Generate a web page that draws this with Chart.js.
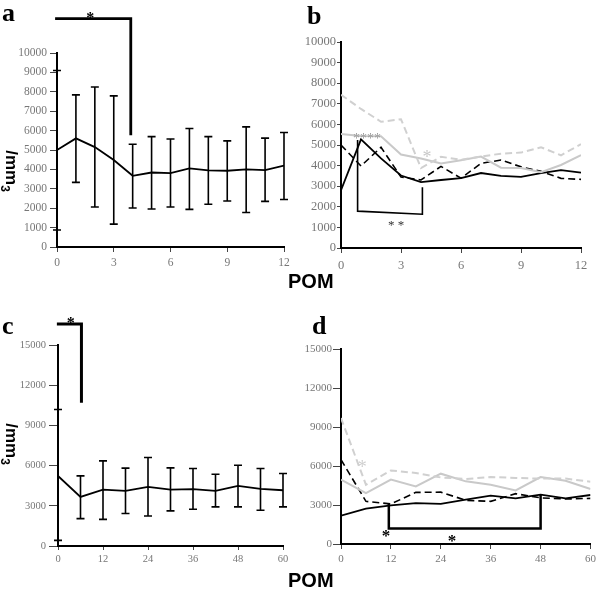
<!DOCTYPE html>
<html>
<head>
<meta charset="utf-8">
<script src="https://cdn.jsdelivr.net/npm/chart.js@4.4.0/dist/chart.umd.min.js"></script>
<style>
body { margin: 0; background: #fff; }
#wrap { position: relative; width: 600px; height: 592px; overflow: hidden; }
canvas { position: absolute; }
.letter { position: absolute; font: bold 26px 'Liberation Serif'; line-height: 26px; color: #000; }
.pom { position: absolute; font: bold 20px 'Liberation Sans'; line-height: 20px; color: #000; }
.unit { position: absolute; font: bold 17px 'Liberation Sans'; line-height: 17px; white-space: nowrap;
        transform: translate(-50%, -50%) rotate(90deg); }
.unit span { font-size: 12px; position: relative; top: 5px; }
</style>
</head>
<body>
<div id="wrap">
    <canvas id="chartA" width="300" height="275" style="left:0;top:0"></canvas>
    <canvas id="chartB" width="300" height="275" style="left:300px;top:0"></canvas>
    <canvas id="chartC" width="300" height="270" style="left:0;top:300px"></canvas>
    <canvas id="chartD" width="300" height="270" style="left:300px;top:300px"></canvas>

    <div class="letter" style="left:2px;top:0">a</div>
    <div class="letter" style="left:307px;top:3px">b</div>
    <div class="letter" style="left:2px;top:313px">c</div>
    <div class="letter" style="left:312px;top:313px">d</div>

    <div class="unit" style="left:10px;top:171px">/mm<span>3</span></div>
    <div class="unit" style="left:10px;top:444px">/mm<span>3</span></div>

    <div class="pom" style="left:288px;top:271px">POM</div>
    <div class="pom" style="left:288px;top:570px">POM</div>
</div>

<script>
// --- dane: panel a (0-12 POM) ---
const monthsA = [0, 1, 2, 3, 4, 5, 6, 7, 8, 9, 10, 11, 12];
const meanA = [5000, 5600, 5150, 4480, 3670, 3840, 3810, 4050, 3950, 3930, 4000, 3960, 4200];
const highA = [9100, 7840, 8250, 7790, 5300, 5690, 5570, 6110, 5690, 5470, 6190, 5610, 5900];
const lowA  = [875, 3330, 2060, 1180, 2010, 1960, 2060, 1940, 2200, 2370, 1780, 2350, 2450];

// --- panel b: cztery grupy ---
const blackSolidB = [2810, 5270, 4350, 3520, 3200, 3300, 3390, 3640, 3500, 3450, 3640, 3780, 3660];
const blackDashB  = [5000, 3980, 4890, 3450, 3300, 3960, 3390, 4110, 4270, 3940, 3720, 3380, 3330];
const graySolidB  = [5540, 5440, 5420, 4540, 4340, 4100, 4260, 4440, 3900, 3880, 3680, 4030, 4510];
const grayDashB   = [7440, 6750, 6130, 6250, 3880, 4430, 4280, 4440, 4580, 4630, 4890, 4500, 5040];

// --- panel c (0-60 POM) ---
const monthsC = [0, 6, 12, 18, 24, 30, 36, 42, 48, 54, 60];
const meanC = [5230, 3660, 4210, 4110, 4410, 4210, 4240, 4110, 4490, 4260, 4160];
const highC = [10190, 5230, 6350, 5810, 6600, 5830, 5780, 5360, 6030, 5780, 5410];
const lowC  = [420, 2040, 1990, 2420, 2240, 2620, 2740, 2920, 2920, 2670, 2920];

// --- panel d ---
const blackSolidD = [2180, 2720, 2970, 3150, 3080, 3410, 3720, 3510, 3790, 3510, 3770];
const blackDashD  = [6490, 3280, 3080, 3970, 3990, 3360, 3280, 3870, 3550, 3460, 3510];
const graySolidD  = [4950, 3920, 4950, 4430, 5410, 4820, 4560, 4120, 5150, 4870, 4230];
const grayDashD   = [9690, 4560, 5660, 5460, 5120, 5000, 5150, 5080, 5030, 5030, 4790];

// --- klamry istotnosci (x, y) ---
const bracketAx = [-0.1, -0.1, 3.9, 3.9];
const bracketAy = [10400, 11770, 11770, 5760];
const bracketBx = [0.83, 0.83, 4.07, 4.07];
const bracketBy = [5240, 1790, 1640, 2950];
const bracketCx = [-0.3, -0.3, 6.25, 6.25];
const bracketCy = [15250, 16570, 16570, 10690];
const bracketDx = [11.5, 11.5, 48, 48];
const bracketDy = [3070, 1200, 1200, 3790];

// --- gwiazdki ---
const starTextA = ['*'];
const starXA = [1.76];
const starYA = [11940];
const starTextB = ['****', '*', '* *'];
const starXB = [1.3, 4.3, 2.75];
const starYB = [5440, 4550, 1220];
const starTextC = ['*'];
const starXC = [3.4];
const starYC = [16870];
const starTextD = ['*', '*', '*'];
const starXD = [5.1, 10.8, 26.7];
const starYD = [6150, 850, 460];

function points(xs, ys) {
    return xs.map((x, i) => ({ x: x, y: ys[i] }));
}

// Wasy bledow
const errorBarPlugin = {
    id: 'errorBars',
    afterDatasetsDraw(chart, args, opts) {
        if (!opts.xs) return;
        const { ctx } = chart;
        const x = chart.scales.x, y = chart.scales.y;
        ctx.save();
        ctx.strokeStyle = '#000';
        ctx.lineWidth = 1.6;
        opts.xs.forEach((v, i) => {
            const px = x.getPixelForValue(v);
            const top = y.getPixelForValue(opts.hi[i]);
            const bot = y.getPixelForValue(opts.lo[i]);
            ctx.beginPath();
            ctx.moveTo(px, top); ctx.lineTo(px, bot);
            ctx.moveTo(px - 4, top); ctx.lineTo(px + 4, top);
            ctx.moveTo(px - 4, bot); ctx.lineTo(px + 4, bot);
            ctx.stroke();
        });
        ctx.restore();
    }
};

// Gwiazdki jako tekst
const starPlugin = {
    id: 'stars',
    afterDatasetsDraw(chart, args, opts) {
        if (!opts.text) return;
        const { ctx } = chart;
        const x = chart.scales.x, y = chart.scales.y;
        ctx.save();
        ctx.textAlign = 'center';
        ctx.textBaseline = 'alphabetic';
        opts.text.forEach((t, i) => {
            const size = opts.sizes[i];
            ctx.font = (opts.bold[i] ? 'bold ' : '') + size + 'px "Liberation Serif"';
            ctx.fillStyle = opts.colors[i];
            ctx.fillText(t, x.getPixelForValue(opts.xs[i]), y.getPixelForValue(opts.ys[i]) + size * 0.48);
        });
        ctx.restore();
    }
};

function line(data, color, dash, width, extra) {
    return Object.assign({
        data: data,
        borderColor: color,
        borderWidth: width,
        borderDash: dash,
        pointRadius: 0,
        tension: 0,
        fill: false
    }, extra || {});
}

function createPanel(id, cfg) {
    const ctx = document.getElementById(id).getContext('2d');
    return new Chart(ctx, {
        type: 'line',
        data: { datasets: cfg.datasets },
        plugins: [errorBarPlugin, starPlugin],
        options: {
            responsive: false,
            animation: false,
            layout: { padding: { top: cfg.padTop, right: cfg.padRight, left: 0, bottom: 0 } },
            plugins: {
                legend: { display: false },
                tooltip: { enabled: false },
                errorBars: cfg.errorBars || {},
                stars: cfg.stars || {}
            },
            scales: {
                x: {
                    type: 'linear',
                    min: 0,
                    max: cfg.xMax,
                    afterFit: s => { s.height = cfg.xAxisH; },
                    border: { display: true, color: '#000', width: 2 },
                    grid: { drawOnChartArea: false, drawTicks: true, tickLength: cfg.xTickLen, color: '#444', lineWidth: 1 },
                    ticks: {
                        stepSize: cfg.xStep,
                        autoSkip: false,
                        maxRotation: 0,
                        padding: cfg.xPad,
                        color: '#777',
                        font: { family: 'Liberation Serif', size: cfg.fontSize }
                    }
                },
                y: {
                    min: 0,
                    max: cfg.yMax,
                    afterFit: s => { s.width = cfg.yAxisW; },
                    border: { display: true, color: '#000', width: 2 },
                    grid: { drawOnChartArea: false, drawTicks: true, tickLength: cfg.yTickLen, color: '#444', lineWidth: 1 },
                    ticks: {
                        stepSize: cfg.yStep,
                        padding: cfg.yPad,
                        color: '#777',
                        font: { family: 'Liberation Serif', size: cfg.fontSize },
                        callback: v => String(v)
                    }
                }
            }
        }
    });
}

const GRAY_SOLID = '#c9c9c9';
const GRAY_DASH = '#d0d0d0';
const DASH = [7, 4];

document.addEventListener('DOMContentLoaded', () => {
    // a
    createPanel('chartA', {
        xMax: 12, xStep: 3, yMax: 10000, yStep: 1000,
        padTop: 53, padRight: 16, yAxisW: 57, xAxisH: 28,
        yTickLen: 7, yPad: 3, xTickLen: 5, xPad: 4, fontSize: 11.5,
        datasets: [
            line(points(monthsA, meanA), '#000', [], 1.8),
            line(points(bracketAx, bracketAy), '#000', [], 2.8, { clip: false })
        ],
        errorBars: { xs: monthsA, hi: highA, lo: lowA },
        stars: { text: starTextA, xs: starXA, ys: starYA, sizes: [16], bold: [true], colors: ['#000'] }
    });

    // b
    createPanel('chartB', {
        xMax: 12, xStep: 3, yMax: 10000, yStep: 1000,
        padTop: 42, padRight: 19, yAxisW: 41, xAxisH: 27,
        yTickLen: 4, yPad: 1, xTickLen: 5, xPad: 5, fontSize: 12.5,
        datasets: [
            line(points(monthsA, grayDashB), GRAY_DASH, DASH, 2),
            line(points(monthsA, graySolidB), GRAY_SOLID, [], 2),
            line(points(monthsA, blackDashB), '#000', DASH, 1.6),
            line(points(monthsA, blackSolidB), '#000', [], 1.8),
            line(points(bracketBx, bracketBy), '#000', [], 1.6, { clip: false })
        ],
        stars: { text: starTextB, xs: starXB, ys: starYB, sizes: [14, 18, 13], bold: [false, false, false],
                 colors: ['#999', '#c8c8c8', '#333'] }
    });

    // c
    createPanel('chartC', {
        xMax: 60, xStep: 12, yMax: 15000, yStep: 3000,
        padTop: 45, padRight: 17, yAxisW: 58, xAxisH: 24,
        yTickLen: 9, yPad: 3, xTickLen: 4, xPad: 3, fontSize: 10.5,
        datasets: [
            line(points(monthsC, meanC), '#000', [], 1.8),
            line(points(bracketCx, bracketCy), '#000', [], 3, { clip: false })
        ],
        errorBars: { xs: monthsC, hi: highC, lo: lowC },
        stars: { text: starTextC, xs: starXC, ys: starYC, sizes: [16], bold: [true], colors: ['#000'] }
    });

    // d
    createPanel('chartD', {
        xMax: 60, xStep: 12, yMax: 15000, yStep: 3000,
        padTop: 49, padRight: 7, yAxisW: 41, xAxisH: 26,
        yTickLen: 8, yPad: 1, xTickLen: 5, xPad: 4, fontSize: 11,
        datasets: [
            line(points(monthsC, grayDashD), GRAY_DASH, DASH, 2),
            line(points(monthsC, graySolidD), GRAY_SOLID, [], 2),
            line(points(monthsC, blackDashD), '#000', DASH, 1.6),
            line(points(monthsC, blackSolidD), '#000', [], 1.8),
            line(points(bracketDx, bracketDy), '#000', [], 2.5, { clip: false })
        ],
        stars: { text: starTextD, xs: starXD, ys: starYD, sizes: [18, 17, 17], bold: [false, true, true],
                 colors: ['#cfcfcf', '#000', '#000'] }
    });
});
</script>
</body>
</html>
